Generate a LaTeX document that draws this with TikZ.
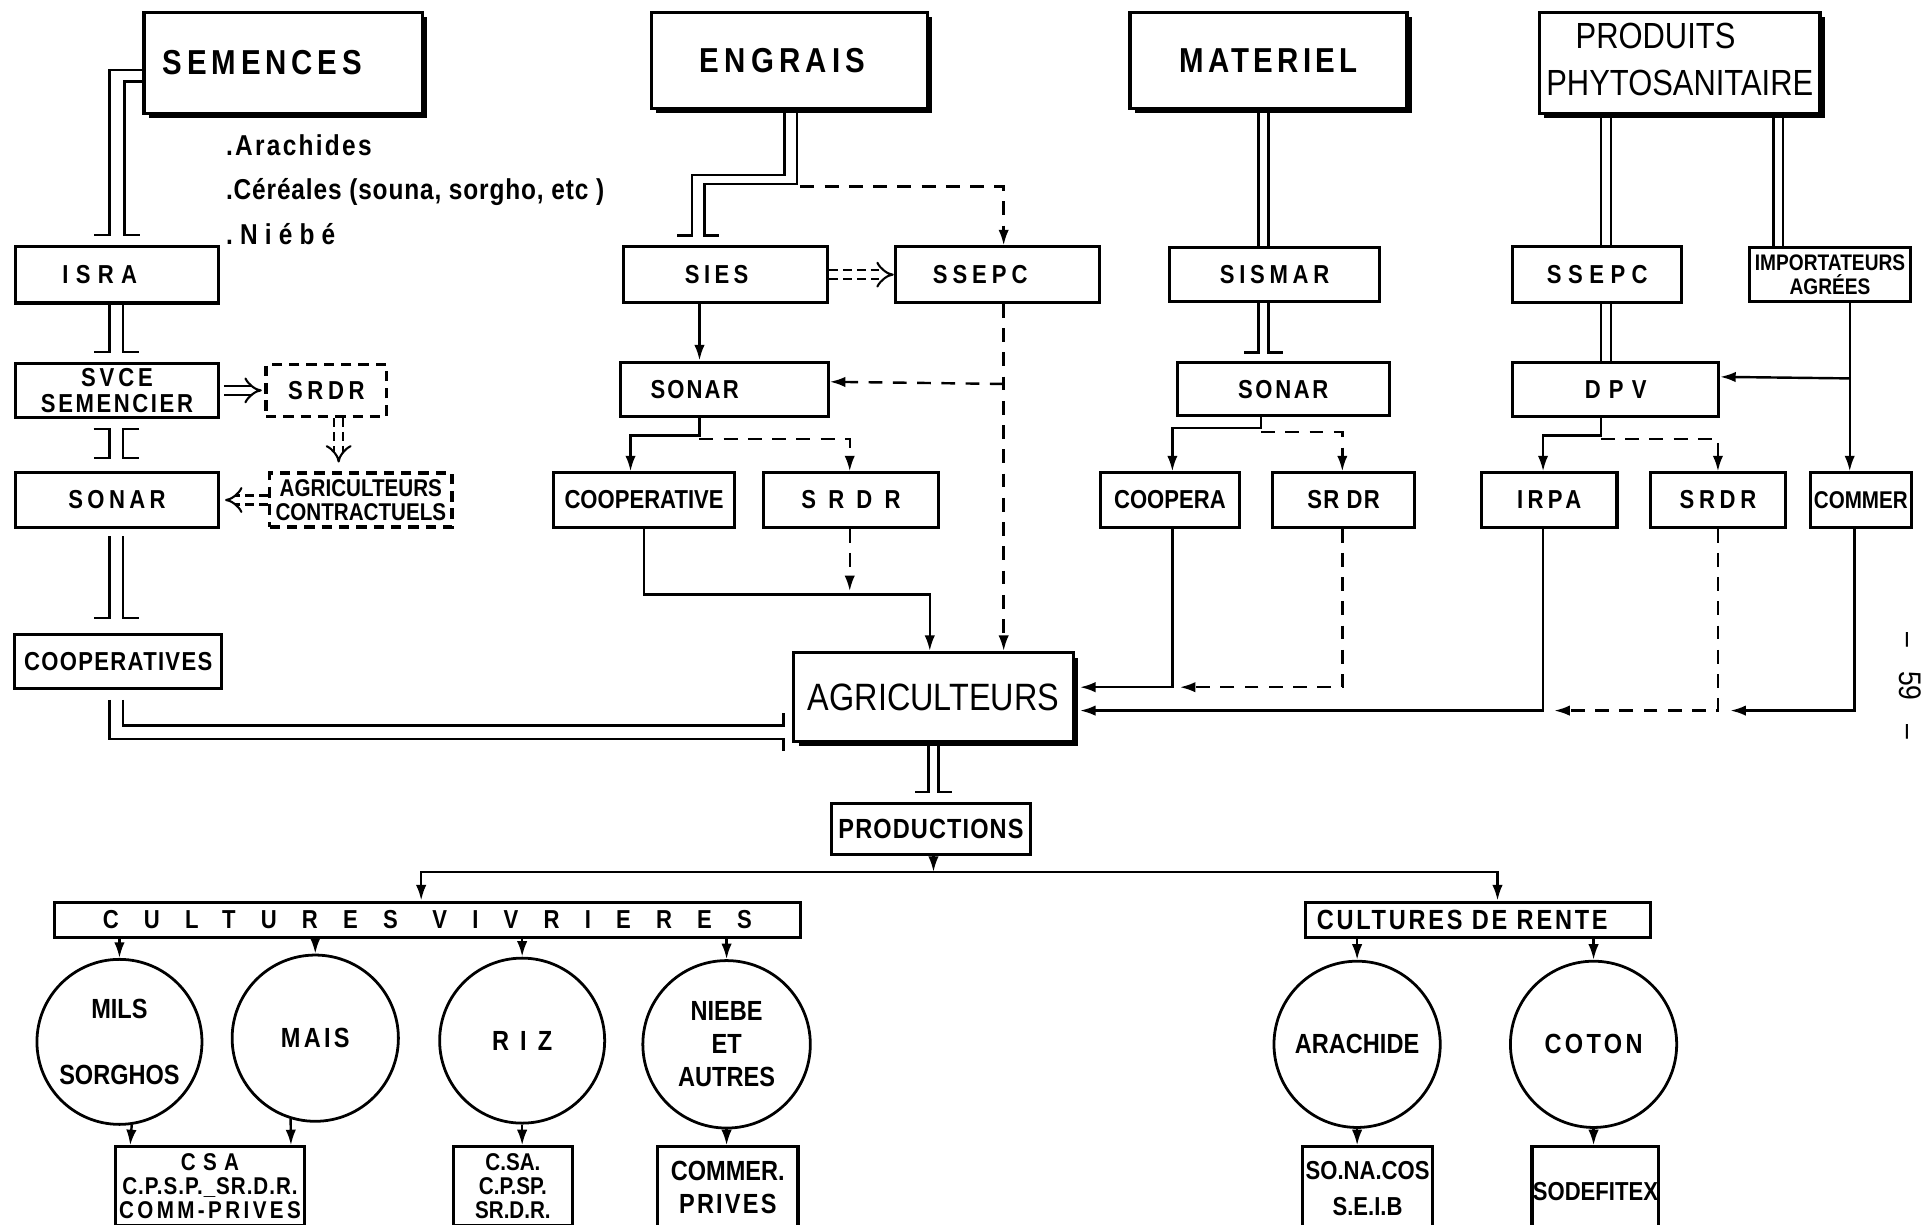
\documentclass[tikz,border=0pt]{standalone}
\usepackage{fontspec}
\setmainfont{Liberation Sans}[FakeStretch=0.85]
\usetikzlibrary{arrows.meta, calc, shadows}
\newcommand\lsp[1]{\addfontfeature{LetterSpace=#1}}

\tikzset{
  sz/.style args={#1/#2}{minimum width=#1*0.0125cm, minimum height=#2*0.0125cm},
  cs/.style={minimum size=#1*0.0125cm},
  box/.style={rectangle, draw, line width=0.9pt, fill=white},
  dbox/.style={rectangle, draw, line width=1pt, dash pattern=on 3pt off 2pt},
  bigbox/.style={rectangle, draw, line width=1pt, fill=white,
    drop shadow={shadow xshift=1.4pt, shadow yshift=-1.4pt, opacity=1, fill=black}},
  crop/.style={circle, draw, line width=0.8pt, font=\bfseries\fontsize{8}{9.6}\selectfont},
  link/.style={line width=0.7pt},
  arr/.style={-{Latex[length=4.5pt,width=3pt]}, line width=0.7pt},
  darr/.style={arr, dash pattern=on 4pt off 3pt},
  dblarr/.style={double, double distance=2pt, line width=0.6pt, -{Implies}},
  dbldash/.style={dblarr, dash pattern=on 2.5pt off 1.5pt}
}

\begin{document}
\begin{tikzpicture}[
    x=0.0125cm, y=-0.0125cm,
    every node/.style={font=\bfseries\fontsize{7.5}{8}\selectfont, align=center, text=black, inner sep=0pt}
  ]

    \clip (0,0) rectangle (1568,994);

    % top row
    \node[bigbox, sz=226/82, font=\bfseries\fontsize{10}{12}\selectfont] (sem) at (230,51)
      {\lsp{14}SEMENCES\hspace{12pt}};
    \node[bigbox, sz=224/78, font=\bfseries\fontsize{10}{12}\selectfont] (engrais) at (641,49)
      {\lsp{15}ENGRAIS\hspace{4pt}};
    \node[bigbox, sz=225/78, font=\bfseries\fontsize{10}{12}\selectfont] (materiel) at (1030,49)
      {\lsp{12}MATERIEL};
    \node[bigbox, sz=228/82, font=\fontsize{10.5}{13.5}\selectfont] (produits) at (1364,51)
      {\raisebox{3.9pt}{\begin{tabular}{@{}c@{}}PRODUITS\kern14pt\\PHYTOSANITAIRE\end{tabular}}};

    \node[font=\bfseries\fontsize{8.3}{12.8}\selectfont, align=left, anchor=west] (list) at (183,154)
      {\lsp{8}.Arachides\\\lsp{3}.Céréales (souna, sorgho, etc )\\\lsp{25}.Niébé};

    % semences column
    \node[box, sz=165/46] (isra) at (95,223) {\lsp{28}ISRA\hspace{10pt}};
    \node[box, sz=165/44, font=\bfseries\fontsize{7.5}{7.5}\selectfont] (svce) at (95,317)
      {\lsp{15}SVCE\\\lsp{10}SEMENCIER};
    \node[dbox, sz=98/42] (srdrS) at (265,317) {\lsp{18}SRDR};
    \node[box, sz=165/44] (sonarS) at (95,406) {\lsp{17}SONAR};
    \node[dbox, sz=148/44, font=\bfseries\fontsize{7}{6.8}\selectfont] (contr) at (293,406)
      {AGRICULTEURS\\CONTRACTUELS};
    \node[box, sz=168/44] (coops) at (96,537) {\lsp{5}COOPERATIVES};

    % engrais column
    \node[box, sz=166/45] (sies) at (589,223) {\lsp{17}SIES\hspace{5pt}};
    \node[box, sz=166/45] (ssepcE) at (810,223) {\lsp{19}SSEPC\hspace{10pt}};
    \node[box, sz=169/44] (sonarE) at (588,316) {\lsp{8}SONAR\hspace{17pt}};
    \node[box, sz=147/44] (coopE) at (523,406) {COOPERATIVE};
    \node[box, sz=142/44] (srdrE) at (691,406) {\lsp{47}SRDR};
    \node[bigbox, sz=227/72, font=\fontsize{11}{13}\selectfont] (agri) at (758,566) {AGRICULTEURS};

    % materiel column
    \node[box, sz=171/44] (sismar) at (1035,223) {\lsp{18}SISMAR};
    \node[box, sz=172/43] (sonarM) at (1042,316) {\lsp{10}SONAR};
    \node[box, sz=113/44] (coopM) at (950,406) {COOPERA};
    \node[box, sz=115/44] (srdrM) at (1091,406) {\lsp{5}SR DR};

    % produits column
    \node[box, sz=137/45] (ssepcP) at (1297,223) {\lsp{25}SSEPC};
    \node[box, sz=131/44, font=\bfseries\fontsize{6.5}{5.7}\selectfont] (import) at (1486,223)
      {IMPORTATEURS\\AGRÉES};
    \node[box, sz=167/44] (dpv) at (1312,316) {\lsp{31}DPV};
    \node[box, sz=110/44] (irpa) at (1258,406) {\lsp{17}IRPA};
    \node[box, sz=109/44] (srdrP) at (1395,406) {\lsp{18}SRDR};
    \node[box, sz=82/44, font=\bfseries\fontsize{7}{8}\selectfont] (commer) at (1511,406) {COMMER};

    % productions
    \node[box, sz=162/41, font=\bfseries\fontsize{8}{9}\selectfont] (prod) at (756,673)
      {\lsp{4}PRODUCTIONS};
    \node[box, sz=606/29] (cv) at (347,747) {\lsp{97}CULTURES\hspace{10pt}VIVRIERES};
    \node[box, sz=280/29, font=\bfseries\fontsize{8}{9}\selectfont] (cr) at (1200,747)
      {\lsp{10}CULTURES DE RENTE\hspace{9pt}};

    \node[crop, cs=134] (mils) at (97,846) {MILS\\[9.3pt]SORGHOS};
    \node[crop, cs=135] (mais) at (256,843) {\lsp{12}MAIS};
    \node[crop, cs=134] (riz) at (424,845) {\lsp{40}RIZ};
    \node[crop, cs=136] (niebe) at (590,848) {NIEBE\\ET\\AUTRES};
    \node[crop, cs=135] (arach) at (1102,848) {ARACHIDE};
    \node[crop, cs=135] (coton) at (1294,848) {\lsp{12}COTON};

    \node[box, anchor=north, sz=153/64, font=\bfseries\fontsize{7}{7}\selectfont] (csa) at (170.5,930)
      {\lsp{30}CSA\\\lsp{4}C.P.S.P.\_SR.D.R.\\\lsp{14}COMM-PRIVES};
    \node[box, anchor=north, sz=97/64, font=\bfseries\fontsize{7}{7}\selectfont] (csaR) at (416.5,930)
      {C.SA.\\C.P.SP.\\SR.D.R.};
    \node[box, anchor=north, sz=114/66, font=\bfseries\fontsize{8}{9.6}\selectfont] (comP) at (591,930)
      {COMMER.\\\lsp{8}PRIVES};
    \node[box, anchor=north, sz=105/68, font=\bfseries\fontsize{7.5}{10.3}\selectfont] (sonacos) at (1110.5,930)
      {SO.NA.COS\\S.E.I.B};
    \node[box, anchor=north, sz=103/72] (sodef) at (1295.5,930) {SODEFITEX};

    \node[rotate=-90, font=\fontsize{9}{10}\selectfont] (page) at (1551,557) {--\hspace{7pt}59\hspace{7pt}--};

    \coordinate (jE) at (690,480);
    \coordinate (jM) at (958,558);
    \coordinate (jP1) at (1262,577);
    \coordinate (jP2) at (1405,577);
    \coordinate (split) at (758,708);

    % semences links
    \draw[link] ($(sem.west)+(0,6)$) -| ($(isra.north)+(-6,-8)$) -- ++(-13,0);
    \draw[link] ($(sem.west)+(0,15)$) -| ($(isra.north)+(6,-8)$) -- ++(13,0);
    \draw[link] ($(isra.south)+(-6,0)$) -- ($(svce.north)+(-6,-8)$) -- ++(-13,0);
    \draw[link] ($(isra.south)+(5,0)$) -- ($(svce.north)+(5,-8)$) -- ++(13,0);
    \draw[link] ($(svce.south)+(-19,8)$) -- ++(13,0) -- ($(sonarS.north)+(-6,-11)$) -- ++(-13,0);
    \draw[link] ($(svce.south)+(18,8)$) -- ++(-13,0) -- ($(sonarS.north)+(5,-11)$) -- ++(13,0);
    \draw[link] ($(sonarS.south)+(-6,6)$) -- ($(coops.north)+(-7,-12)$) -- ++(-13,0);
    \draw[link] ($(sonarS.south)+(5,6)$) -- ($(coops.north)+(4,-12)$) -- ++(13,0);
    \draw[link] ($(coops.south)+(-7,8)$) |- ($(agri.west)+(-7,34)$) -- ++(0,10);
    \draw[link] ($(coops.south)+(4,8)$) |- ($(agri.west)+(-7,23)$) -- ++(0,-10);
    \draw[dblarr] ($(svce.east)+(3,0)$) -- ($(srdrS.west)+(-2,0)$);
    \draw[dbldash] ($(srdrS.south)+(10,0)$) -- ($(contr.north)+(-18,-7)$);
    \draw[dbldash] (contr.west) -- ($(sonarS.east)+(4,0)$);

    % engrais links
    \draw[link] ($(engrais.south)+(-4,0)$) |- ($(sies.north)+(-27,-57)$) -- ($(sies.north)+(-27,-8)$) -- ++(-12,0);
    \draw[link] ($(engrais.south)+(6,0)$) |- ($(sies.north)+(-17,-50)$) -- ($(sies.north)+(-17,-8)$) -- ++(12,0);
    \draw[darr] ($(engrais.south)+(9,62)$) -| ($(ssepcE.north)+(5,0)$);
    \draw[dbldash] (sies.east) -- (ssepcE.west);
    \draw[arr] ($(sies.south)+(-21,0)$) -- ($(sonarE.north)+(-20,0)$);
    \draw[darr] ($(ssepcE.south)+(5,0)$) -- ($(agri.north)+(57,0)$);
    \draw[darr] ($(ssepcE.south)+(5,65)$) -- ($(sonarE.east)+(0,-6)$);
    \draw[arr] ($(sonarE.south)+(-20,0)$) |- ($(coopE.north)+(-11,-29)$) -- ($(coopE.north)+(-11,0)$);
    \draw[darr] ($(sonarE.south)+(-20,17)$) -| ($(srdrE.north)+(-1,0)$);
    \draw[arr] (coopE.south) |- ($(agri.north)+(-3,-46)$) -- ($(agri.north)+(-3,0)$);
    \draw[darr] ($(srdrE.south)+(-1,0)$) -- (jE);

    % materiel links
    \draw[link] ($(materiel.south)+(-8,0)$) -- ($(sismar.north)+(-13,0)$);
    \draw[link] (materiel.south) -- ($(sismar.north)+(-5,0)$);
    \draw[link] ($(sismar.south)+(-13,0)$) -- ($(sonarM.north)+(-20,-7)$) -- ++(-12,0);
    \draw[link] ($(sismar.south)+(-5,0)$) -- ($(sonarM.north)+(-12,-7)$) -- ++(12,0);
    \draw[arr] ($(sonarM.south)+(-18,0)$) |- ($(coopM.north)+(2,-35)$) -- ($(coopM.north)+(2,0)$);
    \draw[darr] ($(sonarM.south)+(-18,12)$) -| ($(srdrM.north)+(-1,0)$);
    \draw[arr] ($(coopM.south)+(2,0)$) |- ($(agri.east)+(4,-8)$);
    \draw[darr] ($(srdrM.south)+(-1,0)$) |- (jM);

    % produits links
    \draw[link] ($(produits.south)+(-64,0)$) -- ($(ssepcP.north)+(3,0)$);
    \draw[link] ($(produits.south)+(-56,0)$) -- ($(ssepcP.north)+(11,0)$);
    \draw[link] ($(produits.south)+(76,0)$) -- ($(import.north)+(-46,0)$);
    \draw[link] ($(produits.south)+(84,0)$) -- ($(import.north)+(-38,0)$);
    \draw[link] ($(ssepcP.south)+(3,0)$) -- ($(dpv.north)+(-12,0)$);
    \draw[link] ($(ssepcP.south)+(11,0)$) -- ($(dpv.north)+(-4,0)$);
    \draw[arr] ($(import.south)+(16,0)$) -- ($(commer.north)+(-9,0)$);
    \draw[arr] ($(import.south)+(16,61)$) -- ($(dpv.east)+(0,-10)$);
    \draw[arr] ($(dpv.south)+(-12,0)$) |- ($(irpa.north)+(-5,-29)$) -- ($(irpa.north)+(-5,0)$);
    \draw[darr] ($(dpv.south)+(-12,17)$) -| (srdrP.north);
    \draw[arr] ($(irpa.south)+(-5,0)$) |- ($(agri.east)+(4,11)$);
    \draw[darr] (srdrP.south) |- (jP1);
    \draw[arr] ($(commer.south)+(-5,0)$) |- (jP2);

    % productions links
    \draw[link] ($(agri.south)+(-4,0)$) -- ($(prod.north)+(-2,-8)$) -- ++(-11,0);
    \draw[link] ($(agri.south)+(4,0)$) -- ($(prod.north)+(6,-8)$) -- ++(11,0);
    \draw[arr] ($(prod.south)+(2,0)$) -- (split);
    \draw[arr] (split) -| ($(cv.north)+(-5,0)$);
    \draw[arr] (split) -| ($(cr.north)+(16,0)$);

    \draw[arr] (cv.south -| mils.north) -- (mils.north);
    \draw[arr] (cv.south -| mais.north) -- (mais.north);
    \draw[arr] (cv.south -| riz.north) -- (riz.north);
    \draw[arr] (cv.south -| niebe.north) -- (niebe.north);
    \draw[arr] (cr.south -| arach.north) -- (arach.north);
    \draw[arr] (cr.south -| coton.north) -- (coton.north);

    \draw[arr] ($(mils.south)+(10,-1)$) -- ($(csa.north west)+(13,0)$);
    \draw[arr] ($(mais.south)+(-20,-3)$) -- ($(csa.north east)+(-12,0)$);
    \draw[arr] (riz.south) -- (riz.south |- csaR.north);
    \draw[arr] (niebe.south) -- (niebe.south |- comP.north);
    \draw[arr] (arach.south) -- (arach.south |- sonacos.north);
    \draw[arr] (coton.south) -- (coton.south |- sodef.north);

  \end{tikzpicture}
\end{document}
